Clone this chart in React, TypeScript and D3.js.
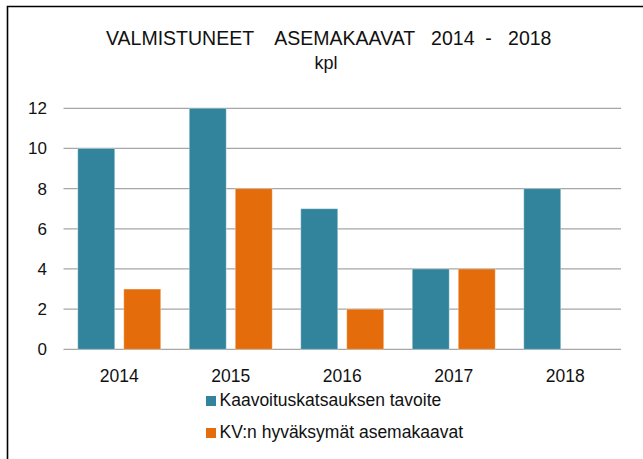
import React from 'react';
import * as d3 from 'd3';

const years = ['2014', '2015', '2016', '2017', '2018'];
const tavoite = [10, 12, 7, 4, 8];
const hyvaksytyt: (number | null)[] = [3, 8, 2, 4, null];
const seriesNames = ['Kaavoituskatsauksen tavoite', 'KV:n hyväksymät asemakaavat'];
const seriesColors = ['#31849B', '#E46C0A'];
const yTicks = [0, 2, 4, 6, 8, 10, 12];
const titleText = 'VALMISTUNEET    ASEMAKAAVAT   2014  -   2018';
const subTitle = 'kpl';

const W = 643;
const H = 459;
const FONT = '"Liberation Sans", Arial, sans-serif';

export default function App() {
  const x = d3.scaleBand<string>().domain(years).range([63.5, 621]).paddingInner(0).paddingOuter(0);
  const xi = d3
    .scaleBand<string>()
    .domain(seriesNames)
    .range([0, x.bandwidth()])
    .paddingInner(0.196)
    .paddingOuter(0.31);
  const y = d3.scaleLinear().domain([0, 12]).range([349.3, 108.3]);
  const series = [tavoite, hyvaksytyt];

  return (
    <svg
      width={W}
      height={H}
      style={{ position: 'absolute', left: 0, top: 0, background: '#fff' }}
      fontFamily={FONT}
    >
      <rect x={0} y={0} width={W} height={H} fill="#fff" />
      {/* frame */}
      <path d={`M7.5,${H} L7.5,6.5 L${W},6.5`} fill="none" stroke="#000" strokeWidth={1.6} />
      {/* title */}
      <text x={106} y={45} textAnchor="start" fontSize={19.5} fill="#111" xmlSpace="preserve" style={{ whiteSpace: 'pre' }}>
        {titleText}
      </text>
      <text x={326} y={69} textAnchor="middle" fontSize={18} fill="#111">
        {subTitle}
      </text>
      {/* gridlines */}
      {yTicks.map((t) => (
        <g key={t}>
          <line x1={63.5} x2={621} y1={y(t)} y2={y(t)} stroke="#A6A6A6" strokeWidth={1.2} />
          <text x={47} y={y(t)} dy="0.35em" textAnchor="end" fontSize={17} fill="#111">
            {t}
          </text>
        </g>
      ))}
      {/* bars */}
      {series.map((vals, si) =>
        vals.map((v, i) =>
          v == null ? null : (
            <rect
              key={`${si}-${i}`}
              x={(x(years[i]) as number) + (xi(seriesNames[si]) as number)}
              y={y(v)}
              width={xi.bandwidth()}
              height={y(0) - y(v)}
              fill={seriesColors[si]}
              stroke="#ffffff"
              strokeOpacity={0.35}
              strokeWidth={1}
            />
          )
        )
      )}
      {/* x labels */}
      {years.map((yr) => (
        <text
          key={yr}
          x={(x(yr) as number) + x.bandwidth() / 2}
          y={382}
          textAnchor="middle"
          fontSize={17.5}
          fill="#111"
        >
          {yr}
        </text>
      ))}
      {/* legend */}
      {seriesNames.map((n, i) => (
        <g key={n} transform={`translate(206, ${396 + i * 32})`}>
          <rect x={0} y={0} width={10} height={10} fill={seriesColors[i]} />
          <text x={13.5} y={10} fontSize={17.5} fill="#111">
            {n}
          </text>
        </g>
      ))}
    </svg>
  );
}
